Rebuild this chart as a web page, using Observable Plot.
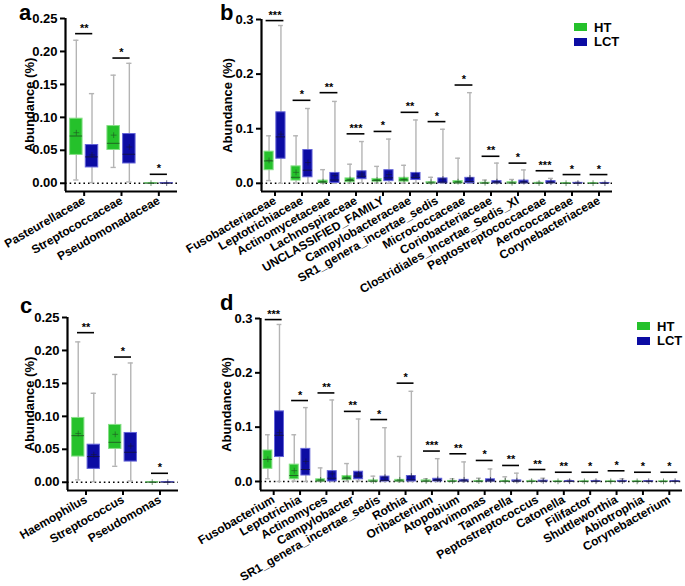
<!DOCTYPE html>
<html><head><meta charset="utf-8">
<script src="https://cdn.jsdelivr.net/npm/d3@7"></script>
<script src="https://cdn.jsdelivr.net/npm/@observablehq/plot@0.6"></script>
<style>
body{margin:0;background:#fff;}
#fig{position:relative;width:685px;height:586px;overflow:hidden;font-family:'Liberation Sans',Arial,sans-serif;font-weight:bold;background:#fff;}
.letter{position:absolute;font-size:22px;line-height:1;font-weight:bold;color:#000;}
.leg{position:absolute;font-size:13px;line-height:1;color:#000;}
.sw{position:absolute;width:13px;height:8px;}
</style></head><body><div id="fig"></div><script>
// ---------- DATA (rows: [min, q1, median, q3, max, mean]) ----------
const catsA = ["Pasteurellaceae","Streptococcaceae","Pseudomonadaceae"];
const htA = [
 [0.005, 0.043, 0.0717, 0.098, 0.217, 0.0767],
 [0.024, 0.0505, 0.0606, 0.0868, 0.164, 0.073],
 [0, 0, 0.0001, 0.0003, 0.0006, 0.0002]];
const lctA = [
 [0.001, 0.024, 0.040, 0.058, 0.136, 0.043],
 [0.002, 0.030, 0.044, 0.0747, 0.182, 0.055],
 [0, 0, 0.0001, 0.0003, 0.0006, 0.0002]];
const sigA = [0.227, 0.19, 0.0136];
const starsA = ["**","*","*"];

const catsB = ["Fusobacteriaceae","Leptotrichiaceae","Actinomycetaceae","Lachnospiraceae","UNCLASSIFIED_FAMILY","Campylobacteraceae","SR1_genera_incertae_sedis","Micrococcaceae","Coriobacteriaceae","Clostridiales_Incertae_Sedis_XI","Peptostreptococcaceae","Aerococcaceae","Corynebacteriaceae"];
const htB = [
 [0.005, 0.024, 0.041, 0.058, 0.087, 0.042],
 [0.0005, 0.005, 0.011, 0.031, 0.087, 0.020],
 [0, 0.0005, 0.002, 0.005, 0.025, 0.003],
 [0.0005, 0.002, 0.005, 0.009, 0.035, 0.007],
 [0.0005, 0.003, 0.005, 0.008, 0.031, 0.006],
 [0.0005, 0.003, 0.006, 0.010, 0.033, 0.007],
 [0, 0, 0.0005, 0.002, 0.011, 0.002],
 [0, 0, 0.001, 0.004, 0.046, 0.003],
 [0, 0, 0.0003, 0.001, 0.006, 0.001],
 [0, 0, 0.0005, 0.002, 0.007, 0.001],
 [0, 0, 0.0002, 0.0008, 0.002, 0.0005],
 [0, 0, 0.0001, 0.0004, 0.001, 0.0002],
 [0, 0, 0.0001, 0.0003, 0.0008, 0.0002]];
const lctB = [
 [0, 0.045, 0.085, 0.130, 0.289, 0.09],
 [0, 0.011, 0.024, 0.061, 0.137, 0.038],
 [0, 0.0005, 0.006, 0.019, 0.150, 0.014],
 [0.001, 0.0075, 0.013, 0.022, 0.0765, 0.017],
 [0, 0.004, 0.010, 0.024, 0.081, 0.016],
 [0.001, 0.006, 0.011, 0.019, 0.116, 0.015],
 [0, 0, 0.002, 0.009, 0.099, 0.008],
 [0, 0, 0.003, 0.010, 0.166, 0.010],
 [0, 0, 0.001, 0.004, 0.037, 0.003],
 [0, 0, 0.001, 0.005, 0.0245, 0.003],
 [0, 0, 0.001, 0.004, 0.009, 0.002],
 [0, 0, 0.0002, 0.0008, 0.002, 0.0004],
 [0, 0, 0.0002, 0.0006, 0.0015, 0.0003]];
const sigB = [0.298, 0.152, 0.166, 0.0906, 0.095, 0.130, 0.113, 0.18, 0.0495, 0.037, 0.023, 0.016, 0.016];
const starsB = ["***","*","**","***","*","**","*","*","**","*","***","*","*"];

const catsC = ["Haemophilus","Streptococcus","Pseudomonas"];
const htC = [
 [0.0036, 0.039, 0.0707, 0.0976, 0.213, 0.074],
 [0.0242, 0.0506, 0.0606, 0.087, 0.1636, 0.0727],
 [0, 0, 0.0001, 0.0003, 0.0006, 0.0002]];
const lctC = [
 [0.001, 0.0203, 0.039, 0.057, 0.135, 0.042],
 [0.002, 0.0314, 0.0455, 0.0748, 0.181, 0.055],
 [0, 0, 0.0001, 0.0003, 0.0006, 0.0002]];
const sigC = [0.227, 0.19, 0.0136];
const starsC = ["**","*","*"];

const catsD = ["Fusobacterium","Leptotrichia","Actinomyces","Campylobacter","SR1_genera_incertae_sedis","Rothia","Oribacterium","Atopobium","Parvimonas","Tannerella","Peptostreptococcus","Catonella","Filifactor","Shuttleworthia","Abiotrophia","Corynebacterium"];
const htD = [
 [0.005, 0.0233, 0.0405, 0.057, 0.086, 0.041],
 [0.0005, 0.004, 0.011, 0.031, 0.086, 0.020],
 [0, 0, 0.001, 0.004, 0.025, 0.003],
 [0.0005, 0.0025, 0.006, 0.0098, 0.033, 0.007],
 [0, 0, 0.0005, 0.002, 0.0098, 0.001],
 [0, 0, 0.001, 0.003, 0.046, 0.003],
 [0, 0, 0.0005, 0.002, 0.005, 0.001],
 [0, 0, 0.0003, 0.001, 0.005, 0.001],
 [0, 0, 0.0003, 0.001, 0.006, 0.001],
 [0, 0, 0.0003, 0.001, 0.0086, 0.001],
 [0, 0, 0.0002, 0.0005, 0.002, 0.0004],
 [0, 0, 0.0001, 0.0003, 0.0008, 0.0002],
 [0, 0, 0.0001, 0.0003, 0.001, 0.0002],
 [0, 0, 0.0001, 0.0003, 0.001, 0.0002],
 [0, 0, 0.0001, 0.0003, 0.0015, 0.0002],
 [0, 0, 0.0001, 0.0003, 0.0008, 0.0002]];
const lctD = [
 [0, 0.045, 0.085, 0.129, 0.289, 0.09],
 [0, 0.011, 0.022, 0.060, 0.136, 0.037],
 [0, 0, 0.006, 0.019, 0.150, 0.014],
 [0.001, 0.004, 0.010, 0.018, 0.115, 0.014],
 [0, 0, 0.002, 0.009, 0.099, 0.008],
 [0, 0, 0.003, 0.010, 0.166, 0.010],
 [0, 0, 0.002, 0.005, 0.042, 0.004],
 [0, 0, 0.001, 0.003, 0.036, 0.003],
 [0, 0, 0.001, 0.004, 0.023, 0.003],
 [0, 0, 0.0005, 0.002, 0.0153, 0.0015],
 [0, 0, 0.0005, 0.0015, 0.006, 0.001],
 [0, 0, 0.0003, 0.0008, 0.0025, 0.0005],
 [0, 0, 0.0003, 0.0008, 0.002, 0.0005],
 [0, 0, 0.0003, 0.001, 0.005, 0.0007],
 [0, 0, 0.0003, 0.0008, 0.0015, 0.0005],
 [0, 0, 0.0003, 0.0008, 0.0015, 0.0005]];
const sigD = [0.298, 0.149, 0.163, 0.129, 0.114, 0.181, 0.056, 0.051, 0.0387, 0.0295, 0.022, 0.017, 0.017, 0.0197, 0.017, 0.017];
const starsD = ["***","*","**","**","*","*","***","**","*","**","**","**","*","*","*","*"];

const groups = ["HT","LCT"];
const ticksA = [0, 0.05, 0.10, 0.15, 0.20, 0.25];
const ticksB = [0, 0.1, 0.2, 0.3];

// ---------- STYLE ----------
const FONT = "'Liberation Sans', Arial, sans-serif";
const COL = {HT: {fill: "#25c12b", edge: "#86df86", med: "#1f5a22"}, LCT: {fill: "#0c0ca3", edge: "#6464d8", med: "#14143f"}};
const GRAY = "#b4b4b4";

function panel(cfg) {
  const n = cfg.cats.length;
  const marks = [];
  marks.push(Plot.ruleY([0], {stroke: "#000", strokeWidth: 1.6, strokeDasharray: "1.6,3"}));
  groups.forEach((g, gi) => {
    const s = gi === 0 ? -1 : 1;
    const stats = gi === 0 ? cfg.ht : cfg.lct;
    const rows = stats.map((r, i) => ({i, xc: i + s * cfg.off, min: r[0], q1: r[1], med: r[2], q3: r[3], max: r[4], mean: r[5]}));
    marks.push(
      Plot.ruleX(rows, {x: "xc", y1: "min", y2: "max", stroke: GRAY, strokeWidth: 1.4}),
      Plot.ruleY(rows, {x1: d => d.xc - cfg.cap, x2: d => d.xc + cfg.cap, y: "max", stroke: GRAY, strokeWidth: 1.4}),
      Plot.ruleY(rows, {x1: d => d.xc - cfg.cap, x2: d => d.xc + cfg.cap, y: "min", stroke: GRAY, strokeWidth: 1.4}),
      Plot.rectY(rows, {x1: d => d.xc - cfg.hw, x2: d => d.xc + cfg.hw, y1: "q1", y2: "q3", fill: COL[g].fill, stroke: COL[g].edge, strokeWidth: 1}),
      Plot.ruleY(rows, {x1: d => d.xc - cfg.hw, x2: d => d.xc + cfg.hw, y: "med", stroke: COL[g].med, strokeWidth: 0.9}),
      Plot.dot(rows, {x: "xc", y: "mean", symbol: "plus", r: 2, stroke: COL[g].med, strokeWidth: 0.8, strokeOpacity: 0.8})
    );
  });
  const sigRows = cfg.sig.map((v, i) => ({i, v, lab: cfg.stars[i]}));
  marks.push(
    Plot.ruleY(sigRows, {x1: d => d.i - cfg.sigHw, x2: d => d.i + cfg.sigHw, y: "v", stroke: "#000", strokeWidth: 1.6}),
    Plot.text(sigRows, {x: "i", y: "v", text: "lab", dy: -2, lineAnchor: "bottom", fontSize: 11, fontWeight: "bold", fill: "#000"}),
    Plot.ruleY([cfg.yDomain[0]], {stroke: "#000", strokeWidth: 2.2}),
    Plot.ruleX([-0.5], {stroke: "#000", strokeWidth: 2.2}),
    Plot.axisY({ticks: cfg.yTicks, tickFormat: d3.format(cfg.fmt), tickSize: 5, strokeWidth: 2, tickPadding: 3, fontSize: 13, fontWeight: "bold",
      label: "Abundance (%)", labelAnchor: "center", labelArrow: "none", labelOffset: cfg.labelOffset}),
    Plot.axisX({ticks: d3.range(n), tickFormat: i => cfg.cats[i], tickRotate: -30, tickSize: 5, strokeWidth: 2, tickPadding: 3, fontSize: 12, fontWeight: "bold", label: null})
  );
  return Plot.plot({
    width: cfg.width, height: cfg.height,
    marginLeft: cfg.ml, marginRight: cfg.mr, marginTop: cfg.mt, marginBottom: cfg.height - cfg.frameBottom,
    x: {domain: [-0.5, n - 0.5]},
    y: {domain: cfg.yDomain},
    style: {position: "absolute", left: cfg.left + "px", top: cfg.top + "px", background: "transparent", overflow: "visible", fontFamily: FONT, fontWeight: "bold", color: "#000"},
    marks
  });
}

const fig = document.getElementById("fig");
fig.append(panel({cats: catsA, ht: htA, lct: lctA, sig: sigA, stars: starsA, left: 0, top: 0, width: 180, height: 290,
  ml: 65, mr: 3, mt: 18, frameBottom: 191, yDomain: [-0.0125, 0.25], yTicks: ticksA, fmt: ".2f",
  off: 0.21, hw: 0.167, cap: 0.07, sigHw: 0.23, labelOffset: 41}));
fig.append(panel({cats: catsB, ht: htB, lct: lctB, sig: sigB, stars: starsB, left: 180, top: 0, width: 505, height: 300,
  ml: 81, mr: 73, mt: 19, frameBottom: 191, yDomain: [-0.015, 0.3], yTicks: ticksB, fmt: ".1f",
  off: 0.22, hw: 0.17, cap: 0.09, sigHw: 0.33, labelOffset: 39}));
fig.append(panel({cats: catsC, ht: htC, lct: lctC, sig: sigC, stars: starsC, left: 0, top: 295, width: 180, height: 291,
  ml: 67, mr: 2, mt: 22, frameBottom: 195, yDomain: [-0.0125, 0.25], yTicks: ticksA, fmt: ".2f",
  off: 0.21, hw: 0.167, cap: 0.07, sigHw: 0.23, labelOffset: 43}));
fig.append(panel({cats: catsD, ht: htD, lct: lctD, sig: sigD, stars: starsD, left: 180, top: 295, width: 505, height: 291,
  ml: 80, mr: 3, mt: 23, frameBottom: 195, yDomain: [-0.0166, 0.3], yTicks: ticksB, fmt: ".1f",
  off: 0.22, hw: 0.17, cap: 0.09, sigHw: 0.32, labelOffset: 39}));

// panel letters
[["a", 19, 2], ["b", 220, 2], ["c", 20, 294.5], ["d", 220, 291.5]].forEach(([t, x, y]) => {
  const el = document.createElement("div");
  el.className = "letter"; el.textContent = t;
  el.style.left = x + "px"; el.style.top = y + "px";
  fig.append(el);
});
// legends
function legend(x, y) {
  groups.forEach((g, gi) => {
    const sw = document.createElement("div");
    sw.className = "sw"; sw.style.background = COL[g].fill;
    sw.style.left = x + "px"; sw.style.top = (y + gi * 14.5) + "px";
    const tx = document.createElement("div");
    tx.className = "leg"; tx.textContent = g;
    tx.style.left = (x + 20) + "px"; tx.style.top = (y + gi * 14.5 - 2.5) + "px";
    fig.append(sw, tx);
  });
}
legend(574, 23);
legend(637, 322);
</script></body></html>
